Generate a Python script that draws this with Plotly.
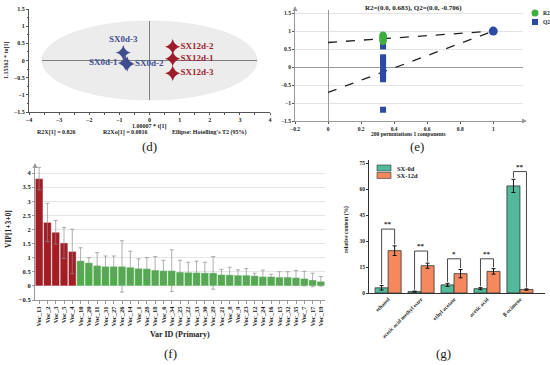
import plotly.graph_objects as go

W, H = 550, 365
SERIF = "Liberation Serif"

# ---------------- data ----------------
# (d) OPLS-DA score plot
d_samples_0d = ["SX0d-1", "SX0d-2", "SX0d-3"]
d_t1_0d = [-0.80, -0.74, -0.87]
d_to1_0d = [-0.07, -0.10, 0.23]
d_samples_12d = ["SX12d-1", "SX12d-2", "SX12d-3"]
d_t1_12d = [0.77, 0.77, 0.77]
d_to1_12d = [0.05, 0.40, -0.37]
d_ellipse_radii = [3.57, 1.15]

# (e) permutation test
e_perm_corr = 0.333
e_r2_perm = [0.89, 0.87, 0.85, 0.83, 0.81, 0.79, 0.77, 0.74, 0.71]
e_q2_perm = [0.57, 0.27, 0.20, 0.15, 0.03, -0.08, -0.15, -0.22, -0.29, -0.34, -1.19]
e_r2_orig = 1.0
e_q2_orig = 1.0
e_r2_intercept = 0.683
e_q2_intercept = -0.706

# (f) VIP
f_ids = ["Voc_13", "Voc_2", "Voc_3", "Voc_5", "Voc_4", "Voc_10", "Voc_20", "Voc_11",
         "Voc_31", "Voc_27", "Voc_26", "Voc_14", "Voc_1", "Voc_28", "Voc_18", "Voc_6",
         "Voc_34", "Voc_25", "Voc_22", "Voc_33", "Voc_30", "Voc_29", "Voc_21", "Voc_8",
         "Voc_9", "Voc_23", "Voc_12", "Voc_24", "Voc_16", "Voc_15", "Voc_32", "Voc_35",
         "Voc_7", "Voc_17", "Voc_19"]
f_vip = [3.80, 2.25, 1.90, 1.52, 1.22, 0.89, 0.82, 0.72, 0.69, 0.69, 0.69, 0.66,
         0.62, 0.61, 0.56, 0.54, 0.54, 0.49, 0.48, 0.47, 0.46, 0.46, 0.40, 0.39,
         0.38, 0.38, 0.36, 0.33, 0.33, 0.31, 0.31, 0.29, 0.26, 0.21, 0.16]
f_err = [0.40, 0.68, 0.42, 0.55, 0.79, 0.46, 0.18, 0.46, 0.37, 0.37, 0.91, 0.57,
         0.34, 0.39, 0.48, 0.37, 0.74, 0.42, 0.36, 0.41, 0.38, 0.58, 0.19, 0.27,
         0.19, 0.23, 0.09, 0.23, 0.08, 0.19, 0.19, 0.26, 0.26, 0.24, 0.17]
f_n_important = 5

# (g) relative content
g_compounds = ["ethanol", "acetic acid methyl ester", "ethyl acetate", "acetic acid", "β-ocimene"]
g_0d = [3.0, 0.8, 4.7, 2.5, 62.0]
g_0d_err = [1.3, 0.3, 0.9, 0.6, 3.8]
g_12d = [24.5, 15.8, 11.2, 12.5, 2.0]
g_12d_err = [2.8, 1.5, 2.4, 1.6, 0.4]
g_sig = ["**", "**", "*", "**", "**"]
g_bracket_top = [37.0, 24.3, 19.8, 19.8, 70.3]

# ---------------- helpers ----------------
def xd(a, b):
    return [a / W, b / W]

def yd(top, bot):
    return [1 - bot / H, 1 - top / H]

def px(x):
    return x / W

def py(y):
    return 1 - y / H

tickfont = dict(family=SERIF, size=6, color="#222", weight="bold")

fig = go.Figure()
annotations = []

def ann(x, y, text, size=6, angle=0, bold=True, color="#222", xanchor="center"):
    annotations.append(dict(x=px(x), y=py(y), xref="paper", yref="paper", text=text,
                            showarrow=False, textangle=angle, xanchor=xanchor, yanchor="middle",
                            font=dict(family=SERIF, size=size, color=color,
                                      weight="bold" if bold else "normal")))

def arrow(x, y, dx, dy, color="#999"):
    annotations.append(dict(x=px(x), y=py(y), xref="paper", yref="paper", text="",
                            showarrow=True, ax=dx, ay=dy, axref="pixel", ayref="pixel",
                            arrowhead=2, arrowsize=1, arrowwidth=1, arrowcolor=color))

# ---------- (d) ----------
R = d_ellipse_radii
fig.add_shape(type="circle", xref="x", yref="y", x0=-R[0], x1=R[0], y0=-R[1], y1=R[1],
              fillcolor="#ececec", line=dict(color="#e0e0e0", width=0.5), layer="below")
fig.add_shape(type="line", xref="x", yref="y", x0=0, x1=0, y0=-R[1], y1=R[1],
              line=dict(color="#808080", width=1), layer="below")
fig.add_shape(type="line", xref="x", yref="y", x0=-R[0], x1=R[0], y0=0, y1=0,
              line=dict(color="#808080", width=1), layer="below")

NAVY, DRED = "#3f4d8f", "#9d1c2c"
fig.add_trace(go.Scatter(
    x=d_t1_0d, y=d_to1_0d, text=d_samples_0d, mode="markers+text",
    textposition=["middle left", "middle right", "top center"],
    marker=dict(symbol="star-diamond", size=11, color=NAVY),
    textfont=dict(family=SERIF, size=9, color=NAVY, weight="bold"),
    xaxis="x", yaxis="y", showlegend=False, cliponaxis=False))
fig.add_trace(go.Scatter(
    x=d_t1_12d, y=d_to1_12d, text=d_samples_12d, mode="markers+text",
    textposition="middle right",
    marker=dict(symbol="star-diamond", size=11, color=DRED),
    textfont=dict(family=SERIF, size=9, color=DRED, weight="bold"),
    xaxis="x", yaxis="y", showlegend=False, cliponaxis=False))

# ---------- (e) ----------
GREEN_E, BLUE_E = "#3fae3f", "#2b4aa6"
for ic, end in [(e_r2_intercept, e_r2_orig), (e_q2_intercept, e_q2_orig)]:
    fig.add_trace(go.Scatter(x=[0, 1], y=[ic, end],
                             mode="lines", line=dict(color="#222", width=1.3, dash="dash"),
                             xaxis="x2", yaxis="y2", showlegend=False, hoverinfo="skip"))
fig.add_trace(go.Scatter(x=[e_perm_corr] * len(e_q2_perm), y=e_q2_perm,
                         mode="markers", name="Q2", showlegend=False,
                         marker=dict(symbol="square", size=6, color=BLUE_E),
                         xaxis="x2", yaxis="y2"))
fig.add_trace(go.Scatter(x=[e_perm_corr] * len(e_r2_perm), y=e_r2_perm,
                         mode="markers", name="R2", showlegend=False,
                         marker=dict(symbol="circle", size=7, color=GREEN_E),
                         xaxis="x2", yaxis="y2"))
fig.add_trace(go.Scatter(x=[1], y=[e_q2_orig], mode="markers", showlegend=False,
                         marker=dict(symbol="circle", size=9, color=BLUE_E),
                         xaxis="x2", yaxis="y2"))
# legend (e), drawn by hand
fig.add_shape(type="circle", xref="paper", yref="paper", x0=px(531.5), x1=px(538.5),
              y0=py(16.5), y1=py(9.5), fillcolor=GREEN_E, line=dict(width=0))
fig.add_shape(type="rect", xref="paper", yref="paper", x0=px(532), x1=px(538),
              y0=py(25), y1=py(19), fillcolor=BLUE_E, line=dict(width=0))
ann(541, 13, "R2", size=5.5, xanchor="left")
ann(541, 22, "Q2", size=5.5, xanchor="left")
arrow(527, 121, -6, 0)
arrow(295, 6, 0, 6)

# ---------- (f) ----------
f_colors = ["#a31d25"] * f_n_important + ["#4fab4c"] * (len(f_ids) - f_n_important)
fig.add_trace(go.Bar(x=f_ids, y=f_vip, width=0.92,
                     marker=dict(color=f_colors, line=dict(color="#f4f4f4", width=0.4)),
                     error_y=dict(type="data", array=f_err, color="#8c8c8c", thickness=0.7, width=2),
                     xaxis="x3", yaxis="y3", showlegend=False))
arrow(35, 163, 0, 6)

# ---------- (g) ----------
TEAL, ORANGE = "#52b99b", "#f3895c"
BW = 0.395
fig.add_trace(go.Bar(x=g_compounds, y=g_0d, name="SX-0d", width=BW, offset=-BW,
                     marker=dict(color=TEAL, line=dict(color="#333", width=0.8)),
                     error_y=dict(type="data", array=g_0d_err, color="#111", thickness=1, width=2),
                     xaxis="x4", yaxis="y4", showlegend=False))
fig.add_trace(go.Bar(x=g_compounds, y=g_12d, name="SX-12d", width=BW, offset=0,
                     marker=dict(color=ORANGE, line=dict(color="#333", width=0.8)),
                     error_y=dict(type="data", array=g_12d_err, color="#111", thickness=1, width=2),
                     xaxis="x4", yaxis="y4", showlegend=False))

for i in range(len(g_compounds)):
    xl, xr = i - BW / 2, i + BW / 2
    yl = g_0d[i] + g_0d_err[i] + 0.8
    yr = g_12d[i] + g_12d_err[i] + 0.8
    top = g_bracket_top[i]
    ln = dict(color="#333", width=0.9)
    fig.add_shape(type="line", xref="x4", yref="y4", x0=xl, x1=xl, y0=yl, y1=top, line=ln)
    fig.add_shape(type="line", xref="x4", yref="y4", x0=xl, x1=xr, y0=top, y1=top, line=ln)
    fig.add_shape(type="line", xref="x4", yref="y4", x0=xr, x1=xr, y0=yr, y1=top, line=ln)
    annotations.append(dict(x=i, y=top, xref="x4", yref="y4", text=g_sig[i], showarrow=False,
                            yanchor="bottom", yshift=-1,
                            font=dict(family=SERIF, size=7, color="#222", weight="bold")))
# legend (g), drawn by hand
fig.add_shape(type="rect", xref="paper", yref="paper", x0=px(377), x1=px(391),
              y0=py(171), y1=py(165), fillcolor=TEAL, line=dict(color="#333", width=0.6))
fig.add_shape(type="rect", xref="paper", yref="paper", x0=px(377), x1=px(391),
              y0=py(178.5), y1=py(172.5), fillcolor=ORANGE, line=dict(color="#333", width=0.6))
ann(395, 168, "SX-0d", size=6.5, xanchor="left")
ann(395, 175.5, "SX-12d", size=6.5, xanchor="left")

# ---------- text annotations ----------
ann(149, 126, "1.00007 * t[1]")
ann(6, 60, "1.15562 * to[1]", angle=-90)
ann(56, 133, "R2X[1] = 0.826")
ann(125, 133, "R2Xo[1] = 0.0816")
ann(209, 133, "Ellipse: Hotelling's T2 (95%)")
ann(149, 146, "(d)", size=13, bold=False)

ann(413, 8, "R2=(0.0, 0.683), Q2=(0.0, -0.706)", size=7)
ann(408, 134, "200 permutations 1 components", size=5.5)
ann(417, 146, "(e)", size=13, bold=False)

ann(8, 229, "VIP[1+3+0]", size=7.5, angle=-90)
ann(180, 334, "Var ID (Primary)", size=8)
ann(170, 353, "(f)", size=13, bold=False)

ann(346, 230, "relative content (%)", size=5.5, angle=-90)
ann(443, 353, "(g)", size=13, bold=False)

axis_common = dict(showgrid=False, zeroline=False, showline=True, linecolor="#555",
                   linewidth=1, ticks="outside", ticklen=2, tickcolor="#555", tickfont=tickfont,
                   automargin=False)

fig.update_layout(
    width=W, height=H, margin=dict(l=0, r=0, t=0, b=0),
    paper_bgcolor="white", plot_bgcolor="white",
    barmode="overlay", showlegend=False,
    annotations=annotations,
    # (d)
    xaxis=dict(axis_common, domain=xd(29, 270), range=[-4, 4], dtick=1, anchor="y",
               minor=dict(ticks="outside", ticklen=1.5, dtick=0.5, tickcolor="#555")),
    yaxis=dict(axis_common, domain=yd(9, 112), range=[-1.5, 1.5], dtick=0.5, anchor="x",
               minor=dict(ticks="outside", ticklen=1.5, dtick=0.25, tickcolor="#555")),
    # (e)
    xaxis2=dict(axis_common, domain=xd(295, 523), range=[-0.2, 1.18], dtick=0.2, anchor="y2",
                zeroline=True, zerolinecolor="#999", zerolinewidth=1, linecolor="#999",
                tickfont=dict(tickfont, size=5.5)),
    yaxis2=dict(axis_common, domain=yd(9.5, 121), range=[-1.5, 1.6], dtick=0.5, anchor="x2",
                showgrid=True, gridcolor="#e4e4e4", gridwidth=0.8,
                zeroline=True, zerolinecolor="#999", zerolinewidth=1, linecolor="#999",
                tickfont=dict(tickfont, size=5.5)),
    # (f)
    xaxis3=dict(axis_common, domain=xd(35, 325), range=[-0.5, len(f_ids) - 0.5], anchor="y3",
                tickangle=-90, linecolor="#999", tickcolor="#999", ticklen=3,
                tickfont=dict(family=SERIF, size=6.5, color="#222", weight="bold")),
    yaxis3=dict(axis_common, domain=yd(166, 300), range=[-0.5, 4.25], dtick=0.5, anchor="x3",
                showgrid=True, gridcolor="#e6e6e6", gridwidth=0.8, linecolor="#999", tickcolor="#999",
                tickfont=dict(tickfont, size=6.5)),
    # (g)
    xaxis4=dict(axis_common, domain=xd(369, 545), range=[-0.58, 4.76], anchor="y4",
                tickangle=-45, ticks="", linecolor="#333",
                tickfont=dict(family=SERIF, size=5.5, color="#222", weight="bold")),
    yaxis4=dict(axis_common, domain=yd(160, 293), range=[0, 77], dtick=15, anchor="x4",
                linecolor="#333", tickcolor="#333", tickfont=dict(tickfont, size=5.5)),
)

fig.write_html("out.html", post_script="document.body.style.margin='0px';",
               config={"displayModeBar": False})
